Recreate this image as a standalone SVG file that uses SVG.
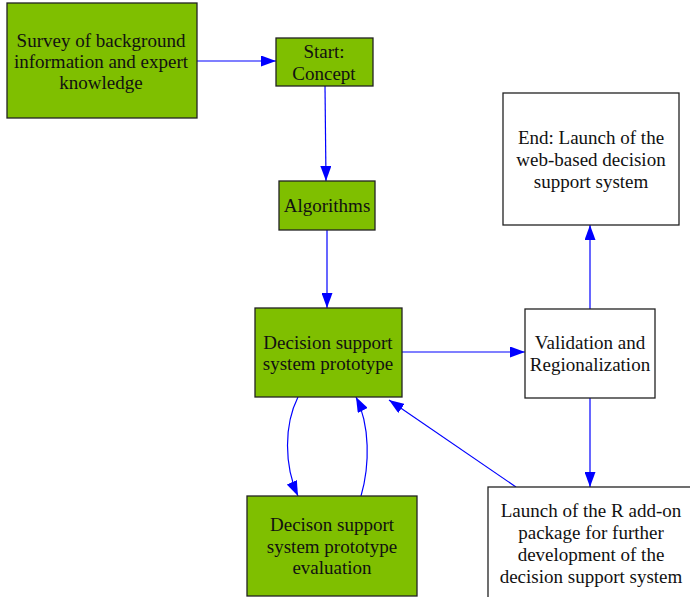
<svg xmlns="http://www.w3.org/2000/svg" width="690" height="597" viewBox="0 0 690 597">
<style>
.g{fill:#7fbf00;stroke:#222;stroke-width:1.3}
.w{fill:#fff;stroke:#222;stroke-width:1.3}
text{font-family:"Liberation Serif","Times New Roman",serif;font-size:19px;fill:#111;text-anchor:middle}
.e{fill:none;stroke:#0000ff;stroke-width:1.2}
</style>
<defs>
<marker id="a" markerWidth="15" markerHeight="11" refX="15" refY="5.5" orient="auto" markerUnits="userSpaceOnUse" viewBox="0 0 15 11"><path d="M0,0L15,5.5L0,11z" fill="#0000ff"/></marker>
</defs>
<rect width="690" height="597" fill="#fff"/>
<g id="edges">
<path class="e" d="M197,61H276" marker-end="url(#a)"/>
<path class="e" d="M325,86L326,181" marker-end="url(#a)"/>
<path class="e" d="M327,230V308" marker-end="url(#a)"/>
<path class="e" d="M402,352H525" marker-end="url(#a)"/>
<path class="e" d="M590,309V225" marker-end="url(#a)"/>
<path class="e" d="M590,398V487" marker-end="url(#a)"/>
<path class="e" d="M298,397C284,425 284,465 298,496" marker-end="url(#a)"/>
<path class="e" d="M361,496C370,465 370,425 356,397" marker-end="url(#a)"/>
<path class="e" d="M516,487L389,400" marker-end="url(#a)"/>
</g>
<g id="survey"><rect class="g" x="7" y="3" width="190" height="115"/><text x="101" y="47">Survey of background</text><text x="101" y="68">information and expert</text><text x="101" y="89">knowledge</text></g>
<g id="start"><rect class="g" x="276" y="38" width="97" height="48"/><text x="324" y="58">Start:</text><text x="324" y="80">Concept</text></g>
<g id="algorithms"><rect class="g" x="279" y="181" width="96" height="49"/><text x="327" y="212">Algorithms</text></g>
<g id="prototype"><rect class="g" x="255" y="308" width="147" height="89"/><text x="328" y="349">Decision support</text><text x="328" y="370">system prototype</text></g>
<g id="validation"><rect class="w" x="525" y="309" width="130" height="89"/><text x="590" y="349">Validation and</text><text x="590" y="371">Regionalization</text></g>
<g id="end"><rect class="w" x="503" y="93" width="176" height="132"/><text x="591" y="144">End: Launch of the</text><text x="591" y="166">web-based decision</text><text x="591" y="188">support system</text></g>
<g id="evaluation"><rect class="g" x="247" y="496" width="170" height="100"/><text x="332" y="531">Decison support</text><text x="332" y="553">system prototype</text><text x="332" y="574">evaluation</text></g>
<g id="rpackage"><rect class="w" x="488" y="487" width="210" height="120"/><text x="591" y="517">Launch of the R add-on</text><text x="591" y="539">package for further</text><text x="591" y="561">development of the</text><text x="591" y="583">decision support system</text></g>
</svg>
